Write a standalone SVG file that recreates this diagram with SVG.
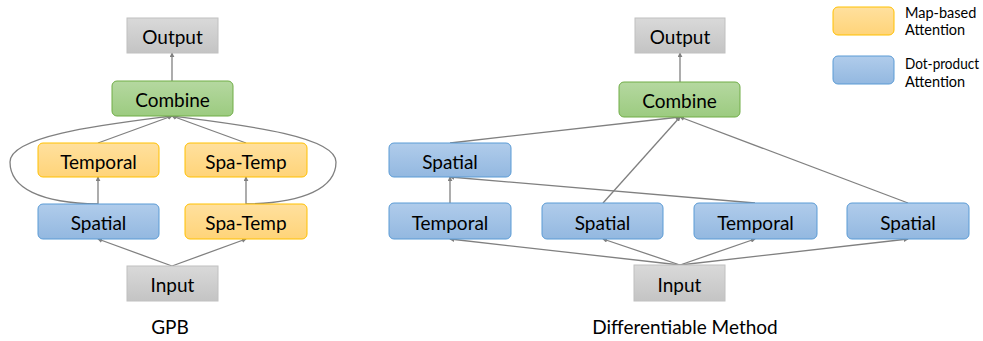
<svg xmlns="http://www.w3.org/2000/svg" width="983" height="341" viewBox="0 0 983 341">
<defs>
<linearGradient id="gGray" x1="0" y1="0" x2="0" y2="1"><stop offset="0" stop-color="#d9d9d9"/><stop offset="1" stop-color="#c4c4c4"/></linearGradient>
<linearGradient id="gGreen" x1="0" y1="0" x2="0" y2="1"><stop offset="0" stop-color="#b5d8a0"/><stop offset="1" stop-color="#9ccb80"/></linearGradient>
<linearGradient id="gOrange" x1="0" y1="0" x2="0" y2="1"><stop offset="0" stop-color="#ffe09e"/><stop offset="1" stop-color="#ffd479"/></linearGradient>
<linearGradient id="gBlue" x1="0" y1="0" x2="0" y2="1"><stop offset="0" stop-color="#b0cceb"/><stop offset="1" stop-color="#93b8e0"/></linearGradient>
<marker id="arr" viewBox="0 0 6 6" refX="5" refY="3" markerWidth="5" markerHeight="5" orient="auto" markerUnits="userSpaceOnUse"><path d="M0,0 L6,3 L0,6 z" fill="#808080"/></marker>
</defs>
<style>
.gray{fill:url(#gGray);stroke:#c0c0c0;stroke-width:1}
.green{fill:url(#gGreen);stroke:#70ad47;stroke-width:1}
.orange{fill:url(#gOrange);stroke:#ffc000;stroke-width:1}
.blue{fill:url(#gBlue);stroke:#5b9bd5;stroke-width:1}
.lbl{font-family:Lato,"Open Sans",sans-serif;font-size:19px;fill:#000;text-anchor:middle;dominant-baseline:central}
.leg{font-family:Lato,"Open Sans",sans-serif;font-size:14.5px;fill:#000}
.cap{font-family:Lato,"Open Sans",sans-serif;font-size:19px;fill:#000;text-anchor:middle}
.c{stroke:#808080;stroke-width:1.3;fill:none}
.ca{stroke:#808080;stroke-width:1.3;fill:none;marker-end:url(#arr)}
</style>
<g id="connectors">
<line class="ca" x1="172" y1="81" x2="172" y2="53"/>
<line class="ca" x1="98" y1="143" x2="172" y2="116"/>
<line class="ca" x1="246" y1="143" x2="172" y2="116"/>
<line class="ca" x1="98" y1="204" x2="98" y2="177"/>
<line class="ca" x1="246" y1="204" x2="246" y2="177"/>
<line class="ca" x1="172" y1="266" x2="98" y2="239"/>
<line class="ca" x1="172" y1="266" x2="246" y2="239"/>
<path class="ca" d="M98,204 C40,203 10,188 10,162 C10,135 110,124 172,116"/>
<path class="ca" d="M246,204 C304,203 336,188 336,162 C336,135 234,124 172,116"/>
<line class="ca" x1="680" y1="82" x2="680" y2="53"/>
<line class="ca" x1="450" y1="143" x2="680" y2="117"/>
<line class="ca" x1="603" y1="203" x2="680" y2="117"/>
<line class="ca" x1="908" y1="203" x2="680" y2="117"/>
<line class="ca" x1="450" y1="203" x2="450" y2="177"/>
<line class="ca" x1="755" y1="203" x2="450" y2="177"/>
<line class="ca" x1="680" y1="265" x2="450" y2="239"/>
<line class="ca" x1="680" y1="265" x2="603" y2="239"/>
<line class="ca" x1="680" y1="265" x2="755" y2="239"/>
<line class="ca" x1="680" y1="265" x2="908" y2="239"/>
</g>
<g id="gpb-output"><rect class="gray" x="127" y="18" width="91" height="35"/><text class="lbl" x="172.5" y="36">Output</text></g>
<g id="gpb-combine"><rect class="green" x="112" y="81" width="121" height="35" rx="5"/><text class="lbl" x="172.5" y="99">Combine</text></g>
<g id="gpb-temporal"><rect class="orange" x="38" y="143" width="121" height="34" rx="5"/><text class="lbl" x="98.5" y="161">Temporal</text></g>
<g id="gpb-spatemp-top"><rect class="orange" x="185" y="143" width="122" height="34" rx="5"/><text class="lbl" x="246" y="161">Spa-Temp</text></g>
<g id="gpb-spatial"><rect class="blue" x="38" y="204" width="121" height="35" rx="5"/><text class="lbl" x="98.5" y="222">Spatial</text></g>
<g id="gpb-spatemp-bottom"><rect class="orange" x="185" y="204" width="122" height="35" rx="5"/><text class="lbl" x="246" y="222">Spa-Temp</text></g>
<g id="gpb-input"><rect class="gray" x="127" y="266" width="91" height="35"/><text class="lbl" x="172.5" y="284">Input</text></g>
<text class="cap" x="170" y="334">GPB</text>
<g id="dm-output"><rect class="gray" x="635" y="18" width="90" height="35"/><text class="lbl" x="680" y="36">Output</text></g>
<g id="dm-combine"><rect class="green" x="619" y="82" width="121" height="35" rx="5"/><text class="lbl" x="679.5" y="100">Combine</text></g>
<g id="dm-spatial-top"><rect class="blue" x="389" y="143" width="122" height="34" rx="5"/><text class="lbl" x="450" y="161">Spatial</text></g>
<g id="dm-temporal-1"><rect class="blue" x="389" y="203" width="122" height="36" rx="5"/><text class="lbl" x="450" y="222">Temporal</text></g>
<g id="dm-spatial-2"><rect class="blue" x="542" y="203" width="121" height="36" rx="5"/><text class="lbl" x="602.5" y="222">Spatial</text></g>
<g id="dm-temporal-3"><rect class="blue" x="694" y="203" width="123" height="36" rx="5"/><text class="lbl" x="755.5" y="222">Temporal</text></g>
<g id="dm-spatial-4"><rect class="blue" x="847" y="203" width="122" height="36" rx="5"/><text class="lbl" x="908" y="222">Spatial</text></g>
<g id="dm-input"><rect class="gray" x="634" y="265" width="91" height="36"/><text class="lbl" x="679.5" y="284">Input</text></g>
<text class="cap" x="685" y="334">Differentiable Method</text>
<g id="legend-map"><rect class="orange" x="833" y="7" width="61" height="28" rx="5"/><text class="leg" x="905" y="18">Map-based</text><text class="leg" x="905" y="35">Attention</text></g>
<g id="legend-dot"><rect class="blue" x="833" y="56" width="61" height="28" rx="5"/><text class="leg" x="905" y="69" textLength="74" lengthAdjust="spacingAndGlyphs">Dot-product</text><text class="leg" x="905" y="87">Attention</text></g>
</svg>
